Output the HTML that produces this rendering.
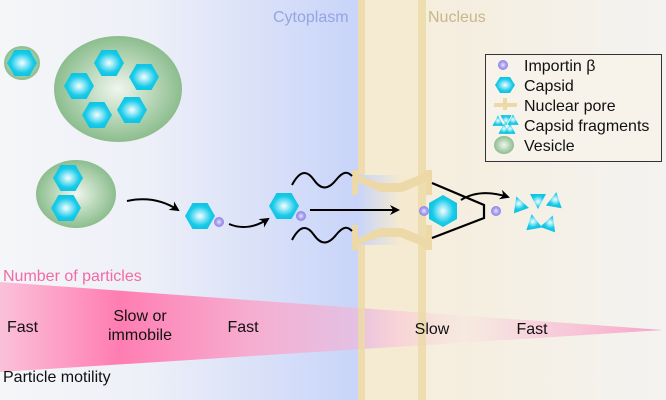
<!DOCTYPE html>
<html><head><meta charset="utf-8"><style>
html,body{margin:0;padding:0;width:666px;height:400px;overflow:hidden;background:#f5f6f8}
svg{display:block}
text{font-family:"Liberation Sans",Arial,sans-serif}
</style></head><body>
<svg width="666" height="400" viewBox="0 0 666 400" xmlns="http://www.w3.org/2000/svg">
<defs>
<linearGradient id="bg" x1="0" x2="1" y1="0" y2="0">
<stop offset="0" stop-color="#f5f6f8"/><stop offset="0.4" stop-color="#eef0f8"/><stop offset="1" stop-color="#c8d4f9"/>
</linearGradient>
<linearGradient id="nuc" x1="0" x2="1"><stop offset="0" stop-color="#f6ecd7"/><stop offset="1" stop-color="#f4f3f1"/></linearGradient>
<linearGradient id="pore" x1="0" x2="1"><stop offset="0" stop-color="#c8d4f9"/><stop offset="0.7" stop-color="#f5ead0"/></linearGradient>
<radialGradient id="hexg"><stop offset="0" stop-color="#f4feff"/><stop offset="0.35" stop-color="#8fe6f6"/><stop offset="0.75" stop-color="#17cbe8"/><stop offset="1" stop-color="#10c3e3"/></radialGradient>
<radialGradient id="ves"><stop offset="0" stop-color="#f0f6ee"/><stop offset="0.6" stop-color="#b3d4b3"/><stop offset="1" stop-color="#8cbd8e"/></radialGradient>
<radialGradient id="imp"><stop offset="0" stop-color="#e9e6ff"/><stop offset="0.6" stop-color="#a89cf0"/><stop offset="1" stop-color="#8f84e4"/></radialGradient>
<linearGradient id="wedge" x1="0" x2="1">
<stop offset="0" stop-color="#fbc1d9"/><stop offset="0.18" stop-color="#ff7db2"/><stop offset="0.38" stop-color="#f6aed0"/><stop offset="0.54" stop-color="#e6bee0" stop-opacity="0.9"/><stop offset="0.6" stop-color="#f9c9d9" stop-opacity="0.7"/><stop offset="0.7" stop-color="#f8d6dc" stop-opacity="0.2"/><stop offset="0.8" stop-color="#f8c0d6" stop-opacity="0.6"/><stop offset="1" stop-color="#f9a1c8"/>
</linearGradient>
<g id="hex"><polygon points="-15,0 -7.5,-13 7.5,-13 15,0 7.5,13 -7.5,13" fill="url(#hexg)"/></g>
<g id="frag"><polygon points="0,-8 8,7 -8,7" fill="url(#hexg)"/></g>
<marker id="ah" markerWidth="10" markerHeight="10" refX="8" refY="5" orient="auto" markerUnits="userSpaceOnUse"><path d="M0,0 L10,5 L0,10 L3,5z" fill="#000"/></marker>
</defs>
<rect x="0" y="0" width="358" height="400" fill="url(#bg)"/>
<rect x="358" y="0" width="308" height="400" fill="url(#nuc)"/>
<rect x="365" y="0" width="53" height="400" fill="#f5ebd2"/>
<!-- wedge -->
<polygon points="0,282 663,330 0,372" fill="url(#wedge)"/>
<rect x="358" y="0" width="7" height="400" fill="#ecd9a7" opacity="0.85"/>
<rect x="418" y="0" width="8" height="400" fill="#ecd9a7" opacity="0.85"/>
<!-- pore -->
<rect x="358" y="175" width="60" height="70" fill="url(#pore)"/>
<path d="M352,170 L358,170 L358,175 L380,183 L400,183 L420,175 L426,170 L432,170 L432,195 L426,195 L426,182 L402,192 L380,192 L358,182 L358,195 L352,195z" fill="#ecd9a7"/>
<path d="M352,250 L358,250 L358,245 L380,237 L400,237 L420,245 L426,250 L432,250 L432,225 L426,225 L426,238 L402,228 L380,228 L358,238 L358,225 L352,225z" fill="#ecd9a7"/>
<text x="273" y="22" font-size="16" fill="#95a4e2">Cytoplasm</text>
<text x="428" y="22" font-size="16" fill="#c9b689">Nucleus</text>
<text x="3" y="281" font-size="16" fill="#f26aa6">Number of particles</text>
<text x="3" y="382" font-size="16" fill="#111">Particle motility</text>
<text x="7" y="332" font-size="16" fill="#111">Fast</text>
<text x="140" y="321" font-size="16" fill="#111" text-anchor="middle">Slow or</text>
<text x="140" y="340" font-size="16" fill="#111" text-anchor="middle">immobile</text>
<text x="243" y="332" font-size="16" fill="#111" text-anchor="middle">Fast</text>
<text x="432" y="334" font-size="16" fill="#111" text-anchor="middle">Slow</text>
<text x="532" y="334" font-size="16" fill="#111" text-anchor="middle">Fast</text>
<!-- vesicles -->
<ellipse cx="22" cy="63" rx="18" ry="17" fill="url(#ves)"/>
<use href="#hex" x="22" y="63"/>
<ellipse cx="118" cy="89" rx="64" ry="53" fill="url(#ves)"/>
<use href="#hex" x="109" y="63"/><use href="#hex" x="144" y="77"/><use href="#hex" x="79" y="86"/><use href="#hex" x="97" y="115"/><use href="#hex" x="132" y="110"/>
<ellipse cx="76" cy="194" rx="40" ry="34" fill="url(#ves)"/>
<use href="#hex" x="68" y="178"/><use href="#hex" x="66" y="208"/>
<!-- path -->
<path d="M127,201 Q155,195 178,210" fill="none" stroke="#000" stroke-width="2" marker-end="url(#ah)"/>
<use href="#hex" x="200" y="216"/>
<circle cx="219" cy="222" r="5" fill="url(#imp)"/>
<path d="M229,224 Q248,232 268,219" fill="none" stroke="#000" stroke-width="2" marker-end="url(#ah)"/>
<use href="#hex" x="284" y="206"/>
<circle cx="301" cy="216" r="5" fill="url(#imp)"/>
<path d="M292,185 C300,170 307,170 314,180 S328,190 336,180 S348,172 352,176" fill="none" stroke="#000" stroke-width="2"/>
<path d="M292,240 C300,225 307,225 314,235 S328,245 336,235 S348,227 352,231" fill="none" stroke="#000" stroke-width="2"/>
<line x1="310" y1="210" x2="398" y2="210" stroke="#000" stroke-width="2" marker-end="url(#ah)"/>
<circle cx="424" cy="211" r="5" fill="url(#imp)"/>
<polygon points="443,195 457,203 457,219 443,227 429,219 429,203" fill="url(#hexg)"/>
<polyline points="432,183 484,205 484,218 432,238" fill="none" stroke="#000" stroke-width="2.2"/>
<path d="M461,200 Q480,188 508,197" fill="none" stroke="#000" stroke-width="2" marker-end="url(#ah)"/>
<circle cx="496" cy="211" r="5" fill="url(#imp)"/>
<g>
<use href="#frag" transform="translate(519,204) rotate(-20)"/>
<use href="#frag" transform="translate(538,201) rotate(180)"/>
<use href="#frag" transform="translate(555,200) rotate(10)"/>
<use href="#frag" transform="translate(533,222) rotate(-10)"/>
<use href="#frag" transform="translate(550,223) rotate(20)"/>
</g>
<!-- legend -->
<rect x="485.5" y="54.5" width="176" height="107" fill="#f7f3ea" stroke="#333" stroke-width="1"/>
<circle cx="503" cy="65" r="5" fill="url(#imp)"/>
<text x="524" y="71" font-size="16" fill="#111">Importin β</text>
<polygon points="495,85 500,77 510,77 515,85 510,93 500,93" fill="url(#hexg)"/>
<text x="524" y="91" font-size="16" fill="#111">Capsid</text>
<rect x="494" y="103" width="23" height="4" fill="#ecd9a7"/>
<rect x="503" y="98" width="4" height="12" fill="#ecd9a7"/>
<text x="524" y="111" font-size="16" fill="#111">Nuclear pore</text>
<use href="#frag" transform="translate(498,121) scale(0.7)"/>
<use href="#frag" transform="translate(506,120) scale(0.7) rotate(180)"/>
<use href="#frag" transform="translate(513,120) scale(0.7)"/>
<use href="#frag" transform="translate(504,129) scale(0.7)"/>
<use href="#frag" transform="translate(510,129) scale(0.7)"/>
<text x="524" y="131" font-size="16" fill="#111">Capsid fragments</text>
<ellipse cx="504" cy="145" rx="10" ry="9" fill="url(#ves)"/>
<text x="524" y="151" font-size="16" fill="#111">Vesicle</text>
</svg>
</body></html>
